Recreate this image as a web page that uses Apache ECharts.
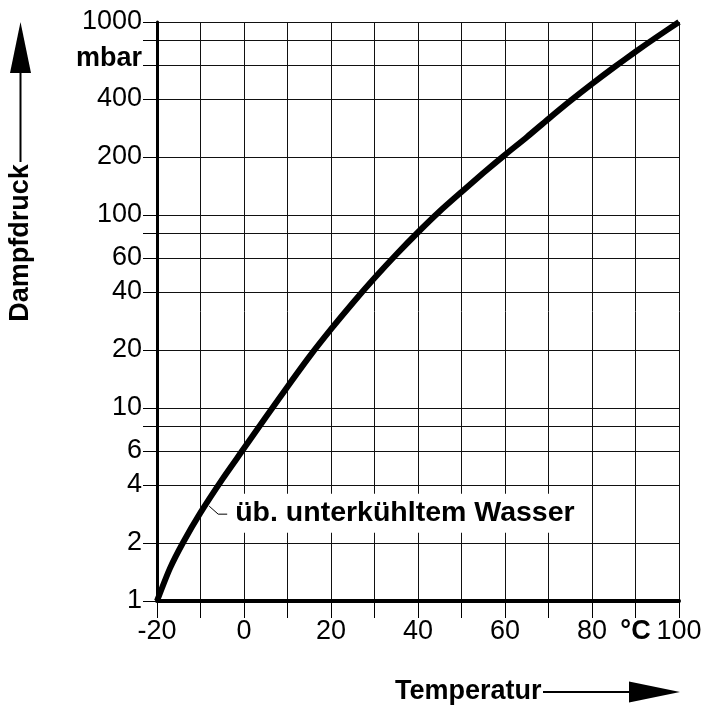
<!DOCTYPE html>
<html><head><meta charset="utf-8">
<script src="https://cdn.jsdelivr.net/npm/echarts@6/dist/echarts.min.js"></script>
<style>html,body{margin:0;padding:0;background:#fff}#c{width:708px;height:709px}</style>
</head><body><div id="c"></div>
<script>
// Temperature (°C) and vapour pressure (mbar)
const temperatures = [-20, -17, -14, -10, -5, 0, 5, 10, 15, 20, 25, 30, 35, 40, 45, 50, 55, 60, 65, 70, 75, 80, 85, 90, 95, 100];
const pressures = [1.0, 1.48, 2.01, 2.87, 4.27, 6.18, 8.96, 12.9, 18.4, 25.6, 35.0, 47.1, 62.4, 81.4, 104.6, 131.7, 165, 205, 253, 315, 390, 478, 581, 701, 840, 1000];

// Axis ticks / labels
const yGridValues = [1, 2, 4, 6, 8, 10, 20, 40, 60, 80, 100, 200, 400, 600, 800, 1000];
const yLabelValues = [1, 2, 4, 6, 10, 20, 40, 60, 100, 200, 400, 650, 1000];
const yUnitText = 'mbar';
const yUnitAt = 650;
const xLabelTexts = ['-20', '', '0', '', '20', '', '40', '', '60', '', '80', '°C', '100'];
const xMin = -20, xMax = 100, xStep = 10;

// Texts
const xTitle = 'Temperatur';
const yTitle = 'Dampfdruck';
const curveNote = 'üb. unterkühltem Wasser';
const curveNoteAnchor = [-8, 3.1];

const FONT = '"Liberation Sans", Arial, sans-serif';
const chart = echarts.init(document.getElementById('c'), null, {renderer: 'canvas'});

const option = {
  animation: false,
  backgroundColor: '#fff',
  grid: {left: 157, right: 29, top: 22, bottom: 108, containLabel: false},
  xAxis: {
    type: 'value', min: xMin, max: xMax, interval: xStep,
    axisLine: {show: true, onZero: false, lineStyle: {color: '#000', width: 4}},
    axisTick: {show: true, length: 17, lineStyle: {color: '#000', width: 1}},
    splitLine: {show: true, lineStyle: {color: '#111', width: 1}},
    axisLabel: {
      margin: 17, color: '#000', fontFamily: FONT, fontSize: 27,
      formatter: function (v) {
        const i = Math.round((v - xMin) / xStep);
        const t = xLabelTexts[i] || '';
        return t === '°C' ? '{u|°C}' : t;
      },
      rich: {u: {fontFamily: FONT, fontSize: 27, fontWeight: 'bold', color: '#000'}}
    }
  },
  yAxis: {
    type: 'log', logBase: 10, min: 1, max: 1000,
    axisLine: {show: true, onZero: false, lineStyle: {color: '#000', width: 3}},
    axisTick: {show: true, length: 14, customValues: yGridValues, lineStyle: {color: '#000', width: 1}},
    splitLine: {show: true, lineStyle: {color: '#111', width: 1}},
    minorTick: {show: false},
    axisLabel: {
      margin: 15, color: '#000', fontFamily: FONT, fontSize: 27,
      customValues: yLabelValues,
      formatter: function (v) {
        return Math.abs(v - yUnitAt) < 1e-6 ? '{u|' + yUnitText + '}' : String(v);
      },
      rich: {u: {fontFamily: FONT, fontSize: 27, fontWeight: 'bold', color: '#000'}}
    }
  },
  series: [{
    type: 'line',
    data: temperatures.map((t, i) => [t, pressures[i]]),
    smooth: 0.25,
    showSymbol: false,
    symbol: 'none',
    lineStyle: {color: '#000', width: 6},
    z: 5
  }],
  graphic: []
};
chart.setOption(option);

const a = chart.convertToPixel({gridIndex: 0}, curveNoteAnchor);
chart.setOption({
  graphic: [
    // y title + arrow
    {type: 'text', x: 21, y: 243, rotation: Math.PI / 2,
     style: {text: yTitle, font: 'bold 27px ' + FONT, fill: '#000', align: 'center', verticalAlign: 'middle'}},
    {type: 'line', shape: {x1: 20.5, y1: 162, x2: 20.5, y2: 70}, style: {stroke: '#000', lineWidth: 2}},
    {type: 'polygon', shape: {points: [[20.5, 22], [10, 73], [31, 73]]}, style: {fill: '#000'}},
    // x title + arrow
    {type: 'text', x: 395, y: 692,
     style: {text: xTitle, font: 'bold 27px ' + FONT, fill: '#000', align: 'left', verticalAlign: 'middle'}},
    {type: 'line', shape: {x1: 543, y1: 692, x2: 632, y2: 692}, style: {stroke: '#000', lineWidth: 2}},
    {type: 'polygon', shape: {points: [[629, 681.5], [680, 692], [629, 702.5]]}, style: {fill: '#000'}},
    // curve annotation
    {type: 'text', x: a[0] + 23, y: a[1] + 7, z: 10,
     style: {text: curveNote, font: 'bold 28.5px ' + FONT, fill: '#000', align: 'left', verticalAlign: 'middle',
             backgroundColor: '#fff', padding: [5, 3, 5, 3]}},
    {type: 'polyline', z: 10, shape: {points: [[a[0], a[1]], [a[0] + 9, a[1] + 8], [a[0] + 18, a[1] + 8]]},
     style: {stroke: '#000', lineWidth: 1, fill: null}}
  ]
});
</script>
</body></html>
